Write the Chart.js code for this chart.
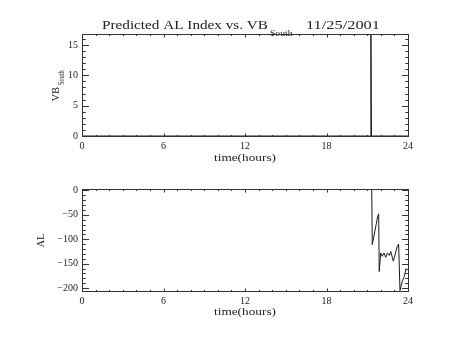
<!DOCTYPE html>
<html><head><meta charset="utf-8">
<script src="https://cdn.jsdelivr.net/npm/chart.js@4/dist/chart.umd.min.js"></script>
<style>
html,body{margin:0;padding:0;background:#fff;}
#wrap{position:relative;width:454px;height:341px;overflow:hidden;background:#fff;}
canvas{position:absolute;left:0;}
</style></head><body>
<div id="wrap">
<canvas id="c1" width="454" height="170" style="top:0px"></canvas>
<canvas id="c2" width="454" height="171" style="top:170px"></canvas>
</div>
<script>
// ---- data ----
const xTicks = [0, 6, 12, 18, 24];
const vbTicks = [0, 5, 10, 15];
const alTicks = [0, -50, -100, -150, -200];

const vbTimes  = [0, 21.25, 21.27, 21.31, 24];
const vbValues = [0, 0, 16.8, 0, 0];

const alTimes  = [21.33, 21.37, 21.77, 21.84, 21.88, 21.99, 22.11, 22.23, 22.36, 22.48, 22.62, 22.73, 22.92, 23.21, 23.31, 23.41, 23.58, 23.73, 23.85];
const alValues = [3, -111, -53, -48, -166, -128, -135, -128, -137, -128, -133, -125, -145, -114, -110, -205, -186, -176, -160];

const FONT = '"Liberation Serif", "DejaVu Serif", serif';

function pts(xs, ys) { return xs.map((v, i) => ({x: v, y: ys[i]})); }

function fitText(ctx, t) {
  ctx.font = t.size + 'px ' + FONT;
  const w = ctx.measureText(t.text).width;
  ctx.save();
  if (t.rot) {
    ctx.translate(t.bx, t.y0);
    ctx.rotate(-Math.PI / 2);
    ctx.scale((t.y0 - t.y1) / w, 1);
    ctx.fillText(t.text, 0, 0);
  } else {
    ctx.translate(t.x0, t.y);
    ctx.scale((t.x1 - t.x0) / w, 1);
    ctx.fillText(t.text, 0, 0);
  }
  ctx.restore();
}

const idlFrame = {
  id: 'idlFrame',
  afterDraw(chart, args, o) {
    const {ctx, chartArea: a} = chart;
    const x = chart.scales.x, y = chart.scales.y;
    ctx.save();
    ctx.strokeStyle = '#333';
    ctx.lineWidth = 1;
    const L = Math.round(a.left) + 0.5, R = Math.round(a.right) + 0.5;
    const T = Math.round(a.top) + 0.5, B = Math.round(a.bottom) + 0.5;
    ctx.strokeRect(L, T, R - L, B - T);
    ctx.beginPath();
    const isMaj = (v, m) => Math.abs(v / m - Math.round(v / m)) < 1e-6;
    for (let v = Math.ceil(x.min / o.xMinor) * o.xMinor; v <= x.max + 1e-9; v += o.xMinor) {
      const p = Math.round(x.getPixelForValue(v)) + 0.5;
      const len = isMaj(v, o.xMajor) ? o.xLen : o.xLen / 2;
      ctx.moveTo(p, B); ctx.lineTo(p, B - len);
      ctx.moveTo(p, T); ctx.lineTo(p, T + len);
    }
    for (let v = Math.ceil(y.min / o.yMinor) * o.yMinor; v <= y.max + 1e-9; v += o.yMinor) {
      const p = Math.round(y.getPixelForValue(v)) + 0.5;
      const len = isMaj(v, o.yMajor) ? o.yLen : o.yLen / 2;
      ctx.moveTo(L, p); ctx.lineTo(L + len, p);
      ctx.moveTo(R, p); ctx.lineTo(R - len, p);
    }
    ctx.stroke();
    ctx.fillStyle = '#222';
    ctx.textAlign = 'left';
    ctx.textBaseline = 'alphabetic';
    (o.texts || []).forEach(t => fitText(ctx, t));
    ctx.restore();
  }
};

function makeChart(id, times, values, yMin, yMax, yTickArr, top, height, bottomPad, frame) {
  return new Chart(document.getElementById(id), {
    type: 'line',
    data: { datasets: [{ data: pts(times, values), borderColor: '#1a1a1a', borderWidth: 1, pointRadius: 0, tension: 0, fill: false }] },
    options: {
      responsive: false, animation: false, events: [],
      layout: { padding: { left: 0, right: 46, top: top, bottom: 0 } },
      plugins: { legend: { display: false }, tooltip: { enabled: false }, idlFrame: frame },
      scales: {
        x: {
          type: 'linear', min: 0, max: 24,
          afterBuildTicks: s => { s.ticks = xTicks.map(v => ({value: v})); },
          afterFit: s => { s.height = bottomPad; },
          grid: { display: false, drawTicks: false }, border: { display: false },
          ticks: { padding: 4, maxRotation: 0, autoSkip: false, color: '#222', font: { family: FONT, size: 10 } }
        },
        y: {
          type: 'linear', min: yMin, max: yMax,
          afterBuildTicks: s => { s.ticks = yTickArr.map(v => ({value: v})); },
          afterFit: s => { s.width = 82; },
          grid: { display: false, drawTicks: false }, border: { display: false },
          ticks: { padding: 4, autoSkip: false, color: '#222', font: { family: FONT, size: 10 },
                   callback: v => (v < 0 ? '\u2212' + Math.abs(v) : String(v)) }
        }
      }
    },
    plugins: [idlFrame]
  });
}

makeChart('c1', vbTimes, vbValues, 0, 16.8, vbTicks, 34, 170, 34, {
  xMinor: 1, xMajor: 6, xLen: 3, yMinor: 1, yMajor: 5, yLen: 6.5,
  texts: [
    { text: 'Predicted AL Index vs. VB', x0: 102, x1: 268, y: 29.3, size: 12 },
    { text: 'South', x0: 270, x1: 292.5, y: 35.5, size: 8 },
    { text: '11/25/2001', x0: 306, x1: 380, y: 29.3, size: 12 },
    { text: 'time(hours)', x0: 214, x1: 276, y: 160.5, size: 11 },
    { rot: true, text: 'VB', bx: 58.5, y0: 101.5, y1: 87, size: 11 },
    { rot: true, text: 'South', bx: 63.5, y0: 85, y1: 70.5, size: 8 }
  ]
});

makeChart('c2', alTimes, alValues, -206, 3, alTicks, 19, 171, 50, {
  xMinor: 1, xMajor: 6, xLen: 3, yMinor: 10, yMajor: 50, yLen: 6.5,
  texts: [
    { text: 'time(hours)', x0: 214, x1: 276, y: 145, size: 11 },
    { rot: true, text: 'AL', bx: 44, y0: 77.5, y1: 63.5, size: 11 }
  ]
});
</script>
</body></html>
